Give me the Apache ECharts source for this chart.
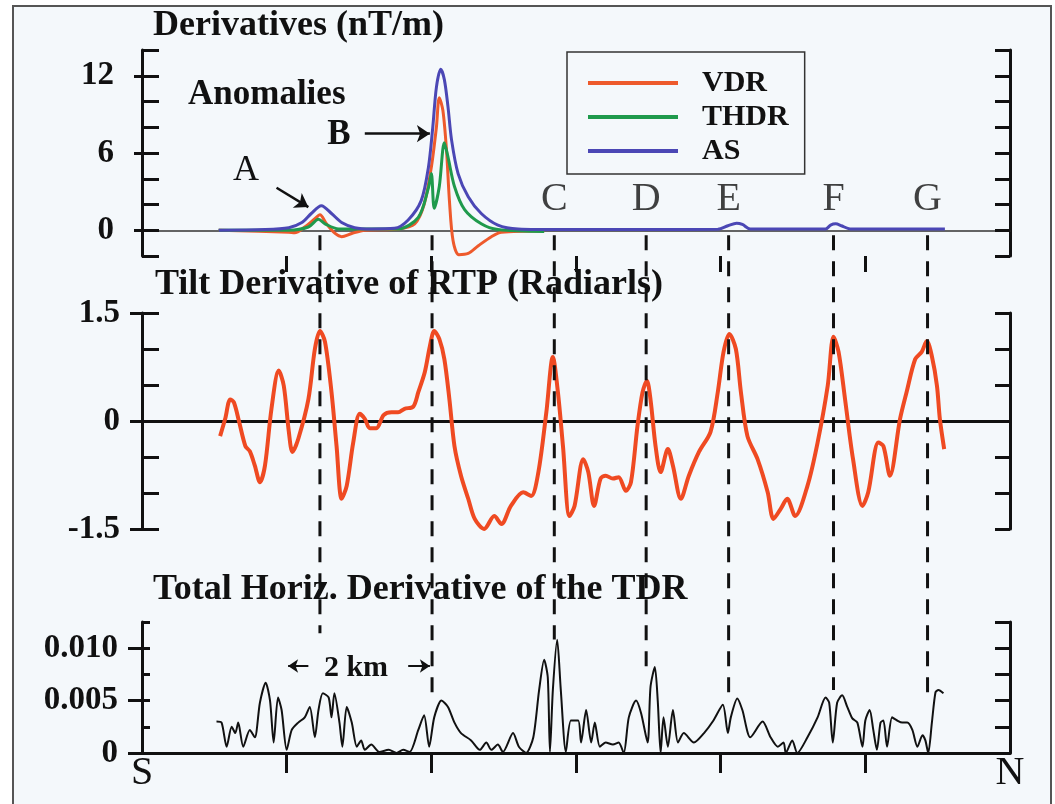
<!DOCTYPE html>
<html>
<head>
<meta charset="utf-8">
<script src="https://cdn.jsdelivr.net/npm/echarts@6/dist/echarts.min.js"></script>
<style>
  html, body { margin: 0; padding: 0; background: #fff; }
  #chart { width: 1055px; height: 804px; }
</style>
</head>
<body>
<div id="chart"></div>
<script>
// 距离单位: km (S -> N), 0 ~ 12
const SERIF = '"Liberation Serif", "Times New Roman", serif'

// 面板1: 导数 (nT/m)
const vdrPts = [[1.06, 0], [2.03, -0.15], [2.11, -0.2], [2.25, 0.25], [2.39, 0.9], [2.46, 1.2], [2.55, 0.5], [2.67, -0.25], [2.76, -0.5], [2.9, -0.25], [3.08, 0], [3.54, 0.1], [3.77, 0.5], [3.9, 2.0], [4.0, 4.9], [4.07, 8.0], [4.11, 10.3], [4.16, 9.3], [4.21, 6.2], [4.25, 2.3], [4.3, -0.8], [4.38, -1.9], [4.51, -1.8], [4.65, -1.2], [4.83, -0.5], [4.97, -0.15], [5.56, -0.05]]
const thdrPts = [[1.06, 0], [2.03, 0], [2.3, 0.25], [2.44, 0.85], [2.53, 0.5], [2.72, 0.1], [3.54, 0.1], [3.82, 1.0], [3.96, 3.3], [4.0, 4.4], [4.04, 1.7], [4.11, 3.4], [4.18, 6.8], [4.23, 5.7], [4.32, 3.4], [4.46, 1.6], [4.69, 0.5], [4.92, 0.05], [5.56, -0.1]]
const asPts = [[1.06, 0], [1.7, 0.05], [2.03, 0.2], [2.21, 0.6], [2.34, 1.3], [2.48, 1.9], [2.62, 1.3], [2.76, 0.6], [2.94, 0.2], [3.17, 0.1], [3.49, 0.15], [3.68, 0.8], [3.86, 2.3], [3.96, 4.9], [4.02, 8.0], [4.07, 11.1], [4.13, 12.5], [4.18, 11.7], [4.23, 9.6], [4.28, 7.0], [4.37, 4.4], [4.51, 2.6], [4.69, 1.3], [4.92, 0.4], [5.2, 0.1], [5.83, 0.05], [7.0, 0.06], [7.96, 0.08], [8.1, 0.35], [8.22, 0.55], [8.3, 0.45], [8.41, 0.1], [9.45, 0.1], [9.52, 0.4], [9.59, 0.5], [9.67, 0.35], [9.79, 0.1], [11.1, 0.1]]

// 面板2: RTP 倾斜导数 (弧度)
const tdrPts = [[1.08, -0.21], [1.15, 0.03], [1.22, 0.3], [1.27, 0.26], [1.34, 0], [1.43, -0.35], [1.49, -0.42], [1.56, -0.62], [1.63, -0.85], [1.7, -0.62], [1.79, 0.17], [1.89, 0.7], [1.96, 0.49], [2.03, -0.15], [2.08, -0.43], [2.16, -0.25], [2.3, 0.3], [2.39, 1.0], [2.46, 1.25], [2.53, 1.1], [2.62, 0.4], [2.69, -0.35], [2.76, -1.08], [2.83, -0.9], [2.92, -0.3], [3.01, 0.1], [3.08, 0.03], [3.15, -0.1], [3.24, -0.1], [3.34, 0.08], [3.45, 0.12], [3.54, 0.12], [3.63, 0.17], [3.75, 0.2], [3.82, 0.4], [3.91, 0.68], [3.98, 1.04], [4.04, 1.25], [4.11, 1.14], [4.18, 0.86], [4.25, 0.3], [4.32, -0.35], [4.41, -0.76], [4.51, -1.08], [4.6, -1.36], [4.73, -1.5], [4.87, -1.32], [4.97, -1.43], [5.1, -1.18], [5.27, -0.99], [5.38, -1.04], [5.48, -0.71], [5.59, 0.12], [5.68, 0.89], [5.75, 0.4], [5.82, -0.35], [5.91, -1.32], [5.98, -1.18], [6.1, -0.53], [6.17, -0.71], [6.25, -1.18], [6.34, -0.8], [6.41, -0.76], [6.51, -0.8], [6.59, -0.78], [6.69, -0.97], [6.76, -0.85], [6.85, -0.07], [6.92, 0.4], [6.98, 0.56], [7.03, 0.3], [7.1, -0.35], [7.17, -0.71], [7.27, -0.39], [7.34, -0.62], [7.45, -1.08], [7.56, -0.76], [7.7, -0.43], [7.86, -0.15], [7.96, 0.4], [8.04, 0.96], [8.12, 1.21], [8.21, 1.0], [8.28, 0.4], [8.37, -0.21], [8.51, -0.53], [8.65, -0.99], [8.73, -1.36], [8.83, -1.22], [8.92, -1.08], [9.03, -1.32], [9.2, -0.9], [9.34, -0.3], [9.48, 0.49], [9.56, 1.17], [9.63, 0.96], [9.72, 0.3], [9.83, -0.53], [9.96, -1.18], [10.04, -0.99], [10.18, -0.3], [10.25, -0.35], [10.34, -0.76], [10.48, 0.03], [10.57, 0.4], [10.69, 0.86], [10.78, 0.96], [10.85, 1.11], [10.92, 0.9], [10.99, 0.49], [11.03, 0.03], [11.09, -0.39]]

// 面板3: TDR 总水平导数
const thdTdrPts = [[1.03, 0.003], [1.1, 0.0029], [1.17, 0.0006], [1.24, 0.0025], [1.29, 0.0019], [1.33, 0.0029], [1.4, 0.0006], [1.49, 0.0022], [1.56, 0.0015], [1.63, 0.0048], [1.71, 0.0067], [1.77, 0.005], [1.82, 0.001], [1.88, 0.0053], [1.93, 0.0041], [2.0, 0.0003], [2.07, 0.0022], [2.16, 0.0029], [2.25, 0.0034], [2.32, 0.0044], [2.39, 0.0015], [2.44, 0.0041], [2.5, 0.0057], [2.58, 0.0053], [2.62, 0.0034], [2.66, 0.0057], [2.73, 0.0029], [2.77, 0.0006], [2.83, 0.0044], [2.9, 0.0029], [2.97, 0.0006], [3.03, 0.0012], [3.08, 0.0003], [3.17, 0.0008], [3.28, 0.0001], [3.41, 0.0003], [3.52, 0], [3.61, 0.0003], [3.7, 0.0001], [3.82, 0.0022], [3.9, 0.0036], [3.97, 0.0006], [4.04, 0.0034], [4.14, 0.005], [4.23, 0.0044], [4.32, 0.0029], [4.41, 0.0019], [4.55, 0.0012], [4.67, 0.0003], [4.76, 0.001], [4.83, 0.0003], [4.92, 0.0008], [4.99, 0.0001], [5.13, 0.0019], [5.21, 0.0006], [5.31, 0], [5.41, 0.0015], [5.49, 0.006], [5.56, 0.0089], [5.61, 0.0072], [5.64, 0.0001], [5.68, 0.006], [5.74, 0.0108], [5.79, 0.006], [5.86, 0.0001], [5.93, 0.0031], [6.03, 0.0031], [6.07, 0.001], [6.14, 0.0041], [6.21, 0.001], [6.26, 0.0029], [6.33, 0.0006], [6.41, 0.001], [6.51, 0.0008], [6.59, 0.001], [6.66, 0], [6.73, 0.0034], [6.83, 0.005], [6.9, 0.0038], [6.99, 0.001], [7.03, 0.0063], [7.09, 0.0082], [7.13, 0.005], [7.17, 0], [7.21, 0.0034], [7.27, 0.0006], [7.34, 0.0041], [7.41, 0.001], [7.49, 0.0019], [7.63, 0.001], [7.77, 0.0019], [7.9, 0.0031], [8.03, 0.0046], [8.1, 0.0019], [8.14, 0.0034], [8.23, 0.0052], [8.3, 0.0041], [8.41, 0.0015], [8.58, 0.003], [8.69, 0.0015], [8.79, 0.0006], [8.87, 0.001], [8.9, 0], [8.99, 0.0012], [9.06, 0], [9.2, 0.0015], [9.34, 0.0034], [9.45, 0.0053], [9.5, 0.0048], [9.55, 0.001], [9.61, 0.0048], [9.68, 0.0055], [9.75, 0.0044], [9.82, 0.0033], [9.89, 0.0029], [9.96, 0.0006], [10.0, 0.0031], [10.06, 0.0041], [10.11, 0.0022], [10.16, 0.0003], [10.21, 0.0029], [10.25, 0.0031], [10.3, 0.0006], [10.37, 0.0034], [10.44, 0.0031], [10.51, 0.0029], [10.58, 0.0029], [10.65, 0.0022], [10.72, 0.0006], [10.79, 0.0017], [10.83, 0.0012], [10.87, 0], [10.92, 0.0029], [10.97, 0.0058], [11.01, 0.006], [11.08, 0.0057]]

// 异常位置 (km) 和虚线在面板3中的终点 (TDR 单位)
const anomalyNames = ['A', 'B', 'C', 'D', 'E', 'F', 'G']
const anomalyKm = [2.46, 4.01, 5.7, 6.97, 8.11, 9.56, 10.86]
const dashEnd = [0.0114, 0.0056, 0.0108, 0.0076, 0.0052, 0.006, 0.0049]

// 刻度
const xTicks = [2, 4, 6, 8, 10]
const derivLabels = [0, 6, 12]
const tiltLabels = [-1.5, 0, 1.5]
const thdLabels = [0, 0.005, 0.01]

const myChart = echarts.init(document.querySelector('#chart'))

const black = '#111'
const axisFont = { fontFamily: SERIF, fontWeight: 'bold', fontSize: 33, color: black }

// 每个面板三根 y 轴: 左内刻度 / 左外刻度+文字 / 右内刻度
const panelYAxes = (grid, min, max, step, labels, inLen, outLen, margin, fmt) => [
  {
    gridIndex: grid, type: 'value', position: 'left', min, max, interval: step,
    axisLine: { show: true, onZero: false, lineStyle: { color: black, width: 3 } },
    axisTick: { show: true, inside: true, length: inLen, lineStyle: { color: black, width: 3 } },
    axisLabel: { show: false },
    splitLine: { show: false }
  },
  {
    gridIndex: grid, type: 'value', position: 'left', offset: 0, min, max,
    axisLine: { show: false, onZero: false },
    axisTick: { show: true, inside: false, length: outLen, customValues: labels, lineStyle: { color: black, width: 3 } },
    axisLabel: { show: true, customValues: labels, formatter: fmt, margin, padding: [10, 0, 0, 0], ...axisFont },
    splitLine: { show: false }
  },
  {
    gridIndex: grid, type: 'value', position: 'right', min, max, interval: step,
    axisLine: { show: true, onZero: false, lineStyle: { color: black, width: 3 } },
    axisTick: { show: true, inside: true, length: 15, lineStyle: { color: black, width: 3 } },
    axisLabel: { show: false },
    splitLine: { show: false }
  }
]

const gridBase = { left: 142, right: 45, outerBoundsMode: 'none', containLabel: false }

const option = {
  animation: false,
  backgroundColor: '#ffffff',
  grid: [
    { ...gridBase, top: 50, bottom: 548 },
    { ...gridBase, top: 313, bottom: 275 },
    { ...gridBase, top: 622, bottom: 51 },
    // 覆盖层: 贯穿三个面板的虚线
    { ...gridBase, top: 228, bottom: 51 }
  ],
  xAxis: [
    {
      gridIndex: 0, type: 'value', min: 0, max: 12, position: 'bottom',
      axisLine: { show: false, onZero: false },
      axisTick: { show: true, length: 16, customValues: xTicks, lineStyle: { color: black, width: 3 } },
      axisLabel: { show: false }, splitLine: { show: false }
    },
    {
      gridIndex: 0, type: 'value', min: 0, max: 12, position: 'bottom', offset: 0,
      axisLine: { show: true, onZero: true, lineStyle: { color: '#333', width: 1.5 } },
      axisTick: { show: false }, axisLabel: { show: false }, splitLine: { show: false }
    },
    {
      gridIndex: 1, type: 'value', min: 0, max: 12,
      axisLine: { show: true, onZero: true, lineStyle: { color: black, width: 3 } },
      axisTick: { show: false }, axisLabel: { show: false }, splitLine: { show: false }
    },
    {
      gridIndex: 2, type: 'value', min: 0, max: 12,
      axisLine: { show: true, lineStyle: { color: black, width: 3 } },
      axisTick: { show: true, length: 20, customValues: xTicks, lineStyle: { color: black, width: 3 } },
      axisLabel: {
        show: true, customValues: [0, 12], margin: 0,
        formatter: v => (v === 0 ? 'S' : 'N'),
        fontFamily: SERIF, fontSize: 40, color: black
      },
      splitLine: { show: false }
    },
    { gridIndex: 3, type: 'value', min: 0, max: 12, show: false }
  ],
  yAxis: [
    ...panelYAxes(0, -2, 14, 2, derivLabels, 17, 8, 28, v => String(v)),
    ...panelYAxes(1, -1.5, 1.5, 0.5, tiltLabels, 17, 12, 22, v => String(v)),
    ...panelYAxes(2, 0, 0.0125, 0.0025, thdLabels, 8, 14, 24, v => (v === 0 ? '0' : v.toFixed(3))),
    { gridIndex: 3, type: 'value', min: 0, max: 0.05, show: false }
  ],
  legend: {
    orient: 'vertical', left: 567, top: 52,
    padding: [14, 16, 6, 21],
    itemWidth: 90, itemHeight: 4, itemGap: 0, icon: 'rect',
    selectedMode: false,
    borderColor: '#333', borderWidth: 1.5,
    data: ['VDR', 'THDR', 'AS'],
    textStyle: { fontFamily: SERIF, fontWeight: 'bold', fontSize: 30, color: black, lineHeight: 34, padding: [0, 0, 0, 19] }
  },
  graphic: [
    { type: 'rect', z: -10, silent: true, shape: { x: 13, y: 6, width: 1038, height: 820 }, style: { fill: '#f4f8fb', stroke: '#555', lineWidth: 2 } },
    { type: 'text', x: 153, y: 26, silent: true, style: { text: 'Derivatives (nT/m)', font: `bold 36px ${SERIF}`, fill: black, verticalAlign: 'middle', textVerticalAlign: 'middle' } },
    { type: 'text', x: 155, y: 285, silent: true, style: { text: 'Tilt Derivative of RTP (Radiarls)', font: `bold 36px ${SERIF}`, fill: black, verticalAlign: 'middle', textVerticalAlign: 'middle' } },
    { type: 'text', x: 153, y: 590, silent: true, style: { text: 'Total Horiz. Derivative of the TDR', font: `bold 36px ${SERIF}`, fill: black, verticalAlign: 'middle', textVerticalAlign: 'middle' } },
    { type: 'text', x: 188, y: 95, silent: true, style: { text: 'Anomalies', font: `bold 35px ${SERIF}`, fill: black, verticalAlign: 'middle', textVerticalAlign: 'middle' } },
    { type: 'text', x: 246, y: 171, silent: true, style: { text: 'A', font: `36px ${SERIF}`, fill: black, align: 'center', textAlign: 'center', verticalAlign: 'middle', textVerticalAlign: 'middle' } },
    { type: 'text', x: 339, y: 135, silent: true, style: { text: 'B', font: `bold 35px ${SERIF}`, fill: black, align: 'center', textAlign: 'center', verticalAlign: 'middle', textVerticalAlign: 'middle' } },
    { type: 'text', x: 356, y: 668, silent: true, style: { text: '2 km', font: `bold 30px ${SERIF}`, fill: black, align: 'center', textAlign: 'center', verticalAlign: 'middle', textVerticalAlign: 'middle' } }
  ],
  series: [
    {
      name: 'VDR', type: 'line', xAxisIndex: 0, yAxisIndex: 0,
      data: vdrPts, showSymbol: false, smooth: 0.3, silent: true,
      itemStyle: { color: '#ee5a2c' }, lineStyle: { color: '#ee5a2c', width: 3 }
    },
    {
      name: 'THDR', type: 'line', xAxisIndex: 0, yAxisIndex: 0,
      data: thdrPts, showSymbol: false, smooth: 0.3, silent: true,
      itemStyle: { color: '#1f9a4c' }, lineStyle: { color: '#1f9a4c', width: 3 }
    },
    {
      name: 'AS', type: 'line', xAxisIndex: 0, yAxisIndex: 0,
      data: asPts, showSymbol: false, smooth: 0.3, silent: true,
      itemStyle: { color: '#4b47b5' }, lineStyle: { color: '#4b47b5', width: 3 },
      // A / B 的指示箭头
      markLine: {
        silent: true, symbol: ['none', 'arrow'], symbolSize: 13,
        label: { show: false },
        itemStyle: { color: black },
        lineStyle: { color: black, width: 2.5, type: 'solid' },
        data: [
          [{ coord: [1.86, 3.3] }, { coord: [2.3, 1.8] }],
          [{ coord: [3.08, 7.5] }, { coord: [3.98, 7.5] }]
        ]
      }
    },
    {
      // C ~ G 标注
      type: 'scatter', xAxisIndex: 0, yAxisIndex: 0, silent: true,
      symbolSize: 0,
      data: anomalyKm.slice(2).map((k, i) => ({ value: [k, 0], name: anomalyNames[i + 2] })),
      label: {
        show: true, position: 'inside', offset: [0, -31], formatter: '{b}',
        fontFamily: SERIF, fontSize: 40, color: black
      }
    },
    {
      name: 'TDR', type: 'line', xAxisIndex: 2, yAxisIndex: 3,
      data: tdrPts, showSymbol: false, smooth: 0.3, silent: true,
      lineStyle: { color: '#ef4a22', width: 4 }
    },
    {
      name: 'THD of TDR', type: 'line', xAxisIndex: 3, yAxisIndex: 6,
      data: thdTdrPts, showSymbol: false, smooth: 0.25, silent: true,
      lineStyle: { color: black, width: 2 },
      // 2 km 比例箭头
      markLine: {
        silent: true, symbol: ['none', 'arrow'], symbolSize: 10,
        label: { show: false },
        itemStyle: { color: black },
        lineStyle: { color: black, width: 2, type: 'solid' },
        data: [
          [{ coord: [2.3, 0.0083] }, { coord: [2.02, 0.0083] }],
          [{ coord: [3.68, 0.0083] }, { coord: [3.98, 0.0083] }]
        ]
      }
    },
    // 贯穿虚线
    ...anomalyKm.map((k, i) => ({
      type: 'line', xAxisIndex: 4, yAxisIndex: 9, z: 5, silent: true,
      showSymbol: false,
      data: [[k, 0.0493], [k, dashEnd[i]]],
      lineStyle: { color: black, width: 3, type: [15, 11] }
    }))
  ]
}

myChart.setOption(option)
</script>
</body>
</html>
